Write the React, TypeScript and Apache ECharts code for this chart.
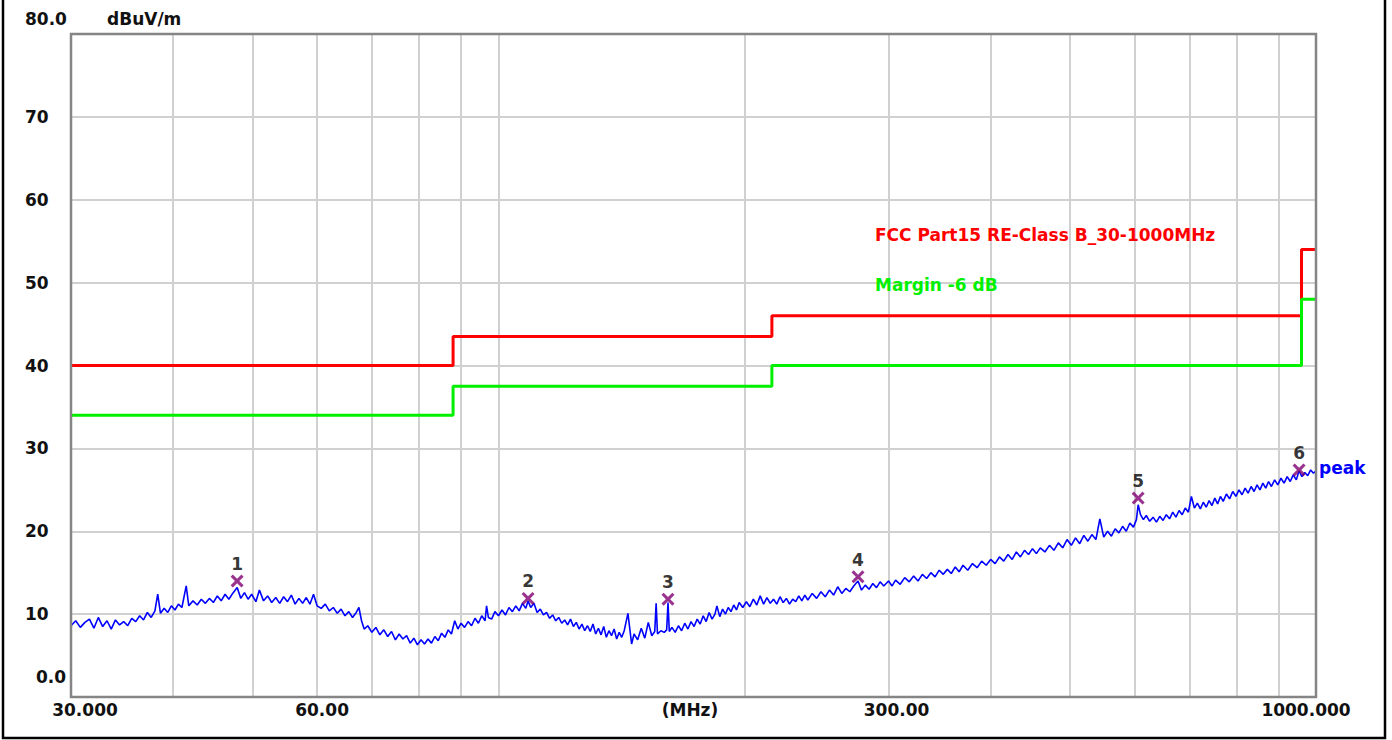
import React, { useEffect, useRef } from "react";
import * as echarts from "echarts";

// Peak trace: [frequency MHz, level dBuV/m]
const tracePoints: [number, number][] = [
  [30.0, 8.6], [30.4, 9.2], [30.8, 8.4], [31.2, 9.0], [31.6, 9.4], [32.0, 8.3], [32.4, 9.6], [32.8, 8.5],
  [33.2, 9.2], [33.6, 8.2], [34.0, 9.3], [34.4, 8.7], [34.8, 9.1], [35.2, 8.6], [35.6, 9.5], [36.0, 9.1],
  [36.4, 9.8], [36.8, 9.3], [37.2, 10.2], [37.6, 9.6], [38.0, 10.4], [38.3, 12.4], [38.6, 10.1], [39.0, 10.7],
  [39.4, 10.2], [39.8, 11.0], [40.2, 10.5], [40.6, 11.2], [41.0, 10.8], [41.5, 13.4], [41.8, 11.0], [42.3, 11.6],
  [42.8, 11.1], [43.3, 11.8], [43.8, 11.3], [44.3, 11.9], [44.8, 11.4], [45.3, 12.2], [45.8, 11.6], [46.3, 12.4],
  [46.8, 11.8], [47.3, 12.5], [47.9, 13.2], [48.4, 11.9], [48.9, 12.6], [49.4, 11.8], [49.9, 12.4], [50.5, 11.5],
  [51.0, 12.9], [51.6, 11.6], [52.2, 12.2], [52.8, 11.4], [53.4, 12.0], [54.0, 11.3], [54.6, 12.1], [55.2, 11.5],
  [55.8, 12.3], [56.4, 11.2], [57.0, 11.9], [57.6, 11.3], [58.2, 12.0], [58.8, 11.2], [59.4, 12.4], [60.0, 11.0],
  [60.7, 10.7], [61.4, 11.2], [62.1, 10.4], [62.8, 10.8], [63.5, 10.1], [64.2, 10.6], [64.9, 9.8], [65.6, 10.3],
  [66.3, 9.6], [67.0, 10.2], [67.5, 10.8], [68.0, 9.2], [68.5, 8.2], [69.2, 8.6], [70.0, 7.8], [70.8, 8.4],
  [71.6, 7.5], [72.4, 8.1], [73.2, 7.3], [74.0, 7.9], [74.8, 6.9], [75.6, 7.6], [76.4, 7.0], [77.2, 7.4],
  [78.0, 6.5], [78.8, 7.1], [79.6, 6.3], [80.4, 6.9], [81.2, 6.4], [82.0, 7.0], [82.8, 6.5], [83.6, 7.3],
  [84.4, 6.8], [85.2, 7.7], [86.0, 7.2], [86.8, 8.1], [87.6, 7.6], [88.4, 9.2], [89.2, 8.2], [90.0, 8.9],
  [90.9, 8.4], [91.8, 9.1], [92.7, 8.6], [93.6, 9.5], [94.5, 8.9], [95.4, 9.8], [96.3, 9.2], [96.7, 11.0],
  [97.2, 9.6], [98.1, 9.4], [99.0, 10.3], [100.0, 9.8], [101.0, 10.5], [102.0, 9.9], [103.0, 10.8], [104.0, 10.3],
  [105.0, 11.0], [106.0, 10.4], [107.0, 11.3], [108.0, 10.7], [108.7, 11.6], [109.5, 10.8], [110.5, 11.3], [111.5, 10.2],
  [112.5, 10.6], [113.5, 9.9], [114.5, 10.2], [115.5, 9.5], [116.5, 9.9], [117.5, 9.2], [118.5, 9.6], [119.5, 8.9],
  [120.5, 9.3], [121.5, 8.7], [122.5, 9.4], [123.5, 8.5], [124.5, 9.0], [125.5, 8.2], [126.5, 8.8], [127.5, 8.0],
  [128.5, 8.6], [129.5, 7.9], [130.5, 8.8], [131.5, 7.6], [132.5, 8.3], [133.5, 7.5], [134.5, 8.5], [135.5, 7.2],
  [136.5, 8.0], [137.5, 7.4], [138.5, 8.2], [139.5, 7.0], [140.5, 7.8], [141.5, 7.2], [142.5, 8.0], [144.0, 10.1],
  [145.5, 6.4], [146.5, 7.6], [148.0, 6.9], [149.5, 8.3], [151.0, 7.1], [152.5, 9.0], [154.0, 7.4], [155.3, 7.9],
  [155.9, 11.3], [156.5, 7.6], [158.0, 8.0], [159.5, 7.8], [160.6, 8.1], [161.2, 11.4], [161.8, 7.9], [163.0, 8.4],
  [164.5, 7.8], [166.0, 8.6], [167.5, 8.0], [169.0, 8.9], [170.5, 8.2], [172.0, 9.1], [173.5, 8.5], [175.0, 9.4],
  [176.5, 8.8], [178.0, 9.8], [179.5, 9.1], [181.0, 10.2], [182.5, 9.4], [184.0, 10.0], [185.0, 11.0], [186.5, 9.7],
  [188.0, 10.6], [189.5, 10.0], [191.0, 10.8], [192.5, 10.3], [194.0, 11.1], [195.5, 10.5], [197.0, 11.4], [199.0, 10.8],
  [201.0, 11.5], [203.0, 10.9], [205.0, 11.8], [207.0, 11.1], [209.0, 12.2], [211.0, 11.2], [213.0, 12.0], [215.0, 11.3],
  [217.0, 11.8], [219.0, 11.2], [221.0, 12.1], [223.0, 11.4], [225.0, 11.9], [227.0, 11.2], [229.0, 11.8], [231.0, 11.5],
  [233.0, 12.2], [235.0, 11.6], [237.0, 12.3], [239.0, 11.7], [242.0, 12.5], [245.0, 11.9], [248.0, 12.7], [251.0, 12.1],
  [254.0, 12.9], [257.0, 12.3], [260.0, 13.3], [263.0, 12.5], [266.0, 13.1], [269.0, 12.7], [272.0, 13.4], [275.3, 14.0],
  [278.0, 12.9], [281.0, 13.5], [284.0, 13.0], [287.0, 13.7], [290.0, 13.2], [293.0, 13.9], [296.0, 13.4], [300.0, 14.0],
  [303.0, 13.4], [306.0, 14.1], [310.0, 13.6], [314.0, 14.4], [318.0, 13.9], [322.0, 14.6], [326.0, 14.0], [330.0, 14.8],
  [334.0, 14.3], [338.0, 15.0], [342.0, 14.5], [346.0, 15.3], [350.0, 14.8], [354.0, 15.4], [358.0, 14.9], [362.0, 15.7],
  [366.0, 15.1], [370.0, 15.9], [375.0, 15.3], [380.0, 16.1], [385.0, 15.6], [390.0, 16.4], [395.0, 15.9], [400.0, 16.6],
  [405.0, 16.1], [410.0, 16.9], [415.0, 16.4], [420.0, 17.2], [425.0, 16.6], [430.0, 17.5], [435.0, 16.9], [440.0, 17.7],
  [445.0, 17.2], [450.0, 17.9], [455.0, 17.3], [460.0, 18.0], [466.0, 17.5], [472.0, 18.3], [478.0, 17.7], [484.0, 18.6],
  [490.0, 18.0], [496.0, 19.0], [502.0, 18.3], [508.0, 19.2], [514.0, 18.5], [520.0, 19.5], [526.0, 18.8], [532.0, 19.6],
  [538.0, 19.0], [544.0, 21.5], [550.0, 19.3], [556.0, 20.0], [562.0, 19.4], [568.0, 20.3], [574.0, 19.8], [580.0, 20.6],
  [586.0, 20.0], [592.0, 21.0], [598.0, 20.5], [603.0, 21.4], [606.0, 23.2], [610.0, 22.0], [615.0, 21.4], [620.0, 21.9],
  [626.0, 21.2], [632.0, 21.7], [638.0, 21.1], [644.0, 21.8], [650.0, 21.3], [656.0, 22.0], [662.0, 21.5], [668.0, 22.3],
  [674.0, 21.7], [680.0, 22.5], [686.0, 22.0], [692.0, 22.8], [698.0, 22.3], [704.0, 24.2], [710.0, 22.8], [716.0, 23.4],
  [722.0, 22.7], [728.0, 23.5], [734.0, 22.9], [740.0, 23.7], [746.0, 23.1], [752.0, 24.0], [758.0, 23.3], [764.0, 24.2],
  [770.0, 23.6], [777.0, 24.5], [784.0, 23.9], [791.0, 24.8], [798.0, 24.2], [805.0, 25.0], [812.0, 24.4], [819.0, 25.2],
  [826.0, 24.6], [833.0, 25.4], [840.0, 24.8], [847.0, 25.6], [854.0, 25.0], [861.0, 25.8], [868.0, 25.2], [875.0, 26.0],
  [882.0, 25.4], [890.0, 26.2], [898.0, 25.6], [906.0, 26.4], [914.0, 25.8], [922.0, 26.6], [930.0, 26.0], [938.0, 26.8],
  [946.0, 26.2], [953.5, 27.3], [961.0, 26.6], [969.0, 27.1], [977.0, 26.7], [985.0, 27.4], [993.0, 27.0], [1000.0, 27.3],
];

// Limit lines
const limitFreq = [30, 88, 88, 216, 216, 960, 960, 1000];
const limitClassB = [40, 40, 43.5, 43.5, 46, 46, 54, 54];
const limitMargin = [34, 34, 37.5, 37.5, 40, 40, 48, 48];

// Markers
const markerFreq = [47.9, 108.7, 161.2, 275.3, 606, 953.5];
const markerLevel = [14.0, 11.9, 11.8, 14.5, 24.0, 27.4];
const markerNames = ["1", "2", "3", "4", "5", "6"];

// Axes
const gridFreqs = [40, 50, 60, 70, 80, 90, 100, 200, 300, 400, 500, 600, 700, 800, 900];
const xLabelValues = [30, 60, 171.5, 300, 1000];
const xLabelTexts = ["30.000", "60.00", "(MHz)", "300.00", "1000.000"];
const yLabelSpecial: Record<number, string> = { 80: "80.0", 0: "0.0" };

const limitName = "FCC Part15 RE-Class B_30-1000MHz";
const marginName = "Margin -6 dB";
const unitText = "dBuV/m";
const traceName = "peak";

// layout / style
const FONT = "DejaVu Sans";
const FS = 17;
const xLabelShift = [14, 5, 0, 8, -10];

export default function App() {
  const ref = useRef<HTMLDivElement>(null);

  useEffect(() => {
    if (!ref.current) return;
    const chart = echarts.init(ref.current, null, { renderer: "svg" });
    const txt = { fontFamily: FONT, fontSize: FS, fontWeight: "bold" as const, color: "#111" };

    const option: any = {
      animation: false,
      backgroundColor: "#ffffff",
      grid: { left: 71, right: 76, top: 34, bottom: 43, containLabel: false },
      xAxis: {
        type: "log",
        logBase: 10,
        min: 30,
        max: 1000,
        axisLine: { show: false },
        axisTick: { show: false },
        axisLabel: { show: false },
        splitLine: { show: false },
      },
      yAxis: {
        type: "value",
        min: 0,
        max: 80,
        interval: 10,
        axisLine: { show: false },
        axisTick: { show: false },
        splitLine: { show: true, lineStyle: { color: "#d0d0d0", width: 2 } },
        axisLabel: {
          show: true,
          align: "left",
          margin: 46,
          ...txt,
          formatter: (v: number) => {
            if (v === 80) return "{t|" + yLabelSpecial[80] + "}";
            if (v === 0) return "{z|" + yLabelSpecial[0] + "}";
            return String(v);
          },
          rich: {
            t: { ...txt, padding: [0, 0, 30, 0] },
            z: { ...txt, padding: [0, 0, 40, 11] },
          },
        },
      },
      series: [
        {
          name: "grid",
          type: "line",
          data: [],
          z: 1,
          silent: true,
          markLine: {
            silent: true,
            z: 1,
            symbol: ["none", "none"],
            label: { show: false },
            lineStyle: { color: "#d0d0d0", width: 2, type: "solid" },
            data: gridFreqs.map((f) => ({ xAxis: f })),
          },
        },
        {
          name: limitName,
          type: "line",
          z: 3,
          symbol: "none",
          lineStyle: { color: "#ff0000", width: 3 },
          data: limitFreq.map((f, i) => [f, limitClassB[i]]),
        },
        {
          name: marginName,
          type: "line",
          z: 3,
          symbol: "none",
          lineStyle: { color: "#00f000", width: 3 },
          data: limitFreq.map((f, i) => [f, limitMargin[i]]),
        },
        {
          name: traceName,
          type: "line",
          z: 4,
          symbol: "none",
          lineStyle: { color: "#0000ff", width: 1.6 },
          data: tracePoints,
          endLabel: {
            show: true,
            formatter: traceName,
            distance: 3,
            offset: [0, -3],
            fontFamily: FONT,
            fontSize: FS,
            fontWeight: "bold",
            color: "#0000ff",
          },
        },
        {
          name: "markers",
          type: "scatter",
          z: 5,
          symbol:
            "path://M0,2 L2,0 L6,4 L10,0 L12,2 L8,6 L12,10 L10,12 L6,8 L2,12 L0,10 L4,6 Z",
          symbolSize: 13,
          itemStyle: { color: "#800070" },
          label: {
            show: true,
            position: "top",
            distance: 2,
            formatter: (p: any) => markerNames[p.dataIndex],
            ...txt,
            color: "#000",
          },
          data: markerFreq.map((f, i) => [f, markerLevel[i]]),
        },
      ],
    };
    chart.setOption(option);

    const px = (f: number) => chart.convertToPixel({ xAxisIndex: 0 }, f) as number;
    const xTexts = xLabelValues.map((v, i) => ({
      type: "text",
      x: px(v) + xLabelShift[i],
      y: 710,
      z: 20,
      style: {
        text: xLabelTexts[i],
        align: "center",
        verticalAlign: "middle",
        fill: "#111",
        fontFamily: FONT,
        fontSize: FS,
        fontWeight: "bold",
      },
    }));

    const textStyle = (t: string, color: string) => ({
      text: t,
      fill: color,
      fontFamily: FONT,
      fontSize: FS,
      fontWeight: "bold",
      align: "left",
      verticalAlign: "middle",
    });

    chart.setOption({
      graphic: [
        {
          type: "rect",
          z: 10,
          silent: true,
          shape: { x: 71, y: 34, width: 1245, height: 663 },
          style: { fill: "none", stroke: "#858585", lineWidth: 2.5 },
        },
        {
          type: "polyline",
          z: 10,
          silent: true,
          shape: { points: [[3, -2], [3, 738], [1385, 738], [1385, -2]] },
          style: { fill: "none", stroke: "#000", lineWidth: 2.5 },
        },
        { type: "text", x: 107, y: 19, z: 20, style: textStyle(unitText, "#111") },
        { type: "text", x: 875, y: 235, z: 20, style: textStyle(limitName, "#ff0000") },
        { type: "text", x: 875, y: 285, z: 20, style: textStyle(marginName, "#00f000") },
        ...xTexts,
      ],
    });

    return () => chart.dispose();
  }, []);

  return (
    <div
      ref={ref}
      style={{ position: "fixed", left: 0, top: 0, width: 1392, height: 740, background: "#fff" }}
    />
  );
}
